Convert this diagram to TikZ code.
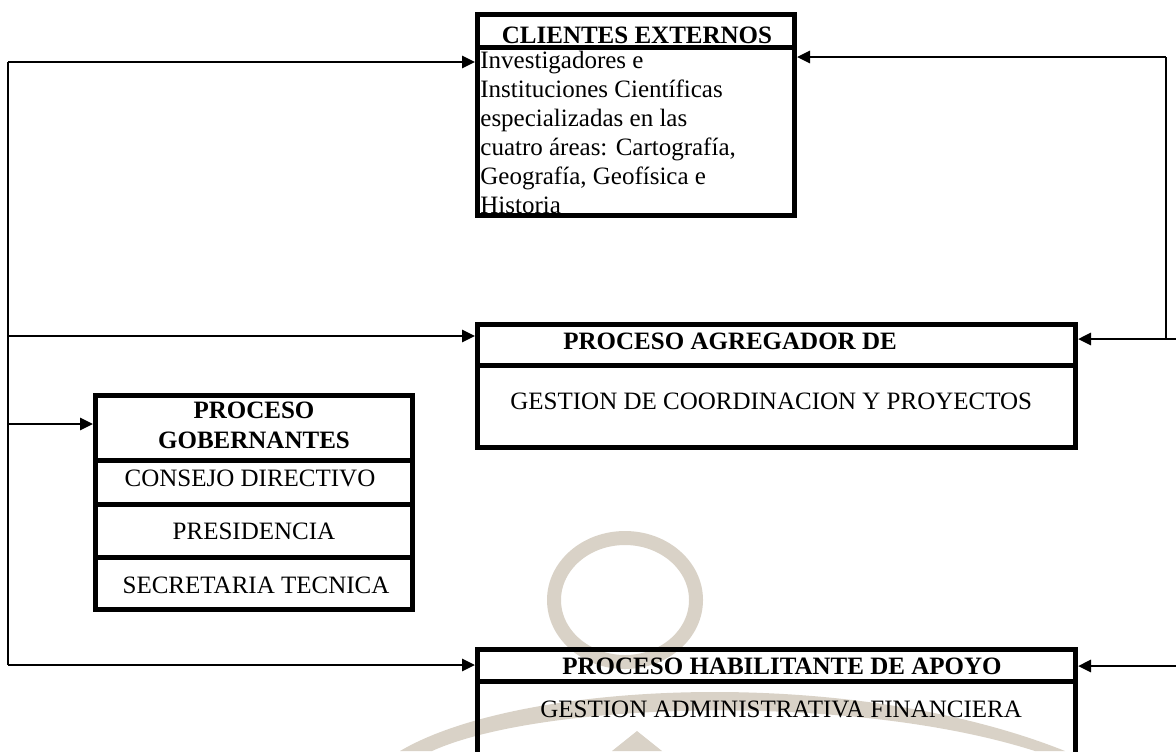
\documentclass[tikz,border=0pt]{standalone}
\usepackage{fontspec}
\setmainfont{Liberation Serif}
\usetikzlibrary{arrows.meta}
\definecolor{wm}{RGB}{217,210,199}
\begin{document}
\begin{tikzpicture}[x=0.5pt,y=-0.5pt,
  sec/.style={draw, line width=2.5pt, rectangle, inner sep=0pt},
  txt/.style={font=\fontsize{12.5}{14.5}\selectfont, inner sep=0pt},
  btxt/.style={font=\fontsize{12.5}{14.5}\selectfont\bfseries, inner sep=0pt},
  vline/.style={line width=0.9pt},
  arr/.style={line width=1.4pt, -{Triangle[length=6.5pt,width=6pt]}}]
\clip (0,0) rectangle (1176,751);
% watermark
\draw[wm, line width=7pt] (625,600) ellipse [x radius=71, y radius=62];
\fill[wm] (400,751) .. controls (520,680) and (850,665) .. (1065,751) -- (1035,751) .. controls (850,692) and (540,702) .. (432,751) -- cycle;
\fill[wm] (637,731) -- (662,751) -- (612,751) -- cycle;
% CLIENTES EXTERNOS
\node[sec, minimum width=158.5pt, minimum height=16.5pt] (cliH) at (636,31) {};
\node[sec, minimum width=158.5pt, minimum height=84pt] (cliB) at (636,131.5) {};
\node[btxt, anchor=base] (cliT) at (637,43) {CLIENTES EXTERNOS};
\foreach \t [count=\i] in {Investigadores e, Instituciones Científicas, especializadas en las, {cuatro áreas: Cartografía,}, {Geografía, Geofísica e}, Historia}
  \node[txt, anchor=base west] (cl\i) at (480,{68+29*(\i-1)}) {\t};
% PROCESO AGREGADOR
\node[sec, minimum width=299pt, minimum height=20.5pt] (agH) at (776.5,345) {};
\node[sec, minimum width=299pt, minimum height=41pt] (agB) at (776.5,406.5) {};
\node[btxt, anchor=base west] (agT) at (563,349) {PROCESO AGREGADOR DE};
\node[txt, anchor=base west] (agS) at (510,409) {GESTION DE COORDINACION Y PROYECTOS};
% PROCESO GOBERNANTES
\node[sec, minimum width=158.5pt, minimum height=32.25pt] (gobH) at (254,427.75) {};
\node[sec, minimum width=158.5pt, minimum height=22pt] (gob1) at (254,482) {};
\node[sec, minimum width=158.5pt, minimum height=26.75pt] (gob2) at (254,530.75) {};
\node[sec, minimum width=158.5pt, minimum height=26pt] (gob3) at (254,583.5) {};
\node[btxt, anchor=base] (gobT1) at (254,418) {PROCESO};
\node[btxt, anchor=base] (gobT2) at (254,448) {GOBERNANTES};
\node[txt, anchor=base] (gobS1) at (250,486) {CONSEJO DIRECTIVO};
\node[txt, anchor=base] (gobS2) at (254,539) {PRESIDENCIA};
\node[txt, anchor=base] (gobS3) at (256,593) {SECRETARIA TECNICA};
% PROCESO HABILITANTE
\node[sec, minimum width=299pt, minimum height=16pt] (habH) at (776.5,665) {};
\node[sec, minimum width=299pt, minimum height=59.5pt] (habB) at (776.5,740.5) {};
\node[btxt, anchor=base west] (habT) at (562,674) {PROCESO HABILITANTE DE APOYO};
\node[txt, anchor=base west] (habS) at (540,717) {GESTION ADMINISTRATIVA FINANCIERA};
% connectors, left side
\coordinate (L1) at (8,62);
\coordinate (L2) at (8,336);
\coordinate (L3) at (8,424);
\coordinate (L4) at (8,665);
\draw[vline] (L1) -- (L4);
\draw[arr] (L1) -- (L1 -| cliB.west);
\draw[arr] (L2) -- (L2 -| agH.west);
\draw[arr] (L3) -- (L3 -| gobH.west);
\draw[arr] (L4) -- (L4 -| habH.west);
% connectors, right side
\coordinate (R1) at (1166,57);
\coordinate (R2) at (1166,339);
\coordinate (R2e) at (1180,339);
\coordinate (R3) at (1180,666);
\draw[vline] (R1) -- (R2);
\draw[arr] (R1) -- (R1 -| cliB.east);
\draw[arr] (R2e) -- (R2e -| agH.east);
\draw[arr] (R3) -- (R3 -| habH.east);
\end{tikzpicture}
\end{document}
